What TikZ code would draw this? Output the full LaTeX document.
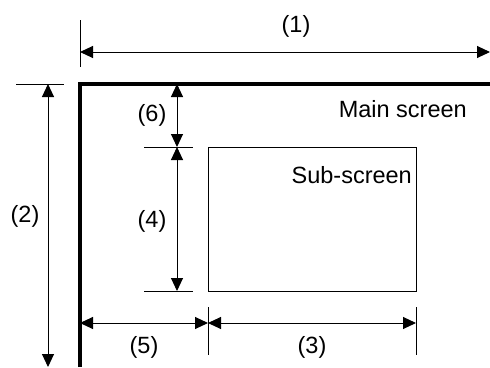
\documentclass[tikz,border=0pt]{standalone}
\usepackage{fontspec}
\setmainfont{Liberation Sans}
\usetikzlibrary{arrows.meta}
\begin{document}
\begin{tikzpicture}[x=1pt,y=-1pt,
  dim/.style={line width=1pt,{Triangle[length=13pt,width=12pt]}-{Triangle[length=13pt,width=12pt]}},
  ext/.style={line width=1pt},
  lbl/.style={font=\fontsize{23.5}{28}\selectfont,inner sep=0pt},
  mainline/.style={line width=4.5pt,line join=miter}]
\useasboundingbox (0,0) rectangle (490,367);
% main screen edge
\coordinate (mbl) at (80,367);
\coordinate (mtl) at (80,84);
\coordinate (mtr) at (490,84);
\draw[mainline] (mbl) -- (mtl) -- (mtr);
% sub-screen
\node[draw,line width=1pt,inner sep=0pt,minimum width=208pt,minimum height=144pt] (sub) at (312,219) {};
\node[lbl,anchor=east] (subtxt) at (412,175) {Sub-screen};
\node[lbl,anchor=east] (maintxt) at (467,109) {Main screen};
% dimension (1)
\coordinate (e1a) at (80,20);
\coordinate (e1b) at (80,67);
\draw[ext] (e1a) -- (e1b);
\coordinate (d1a) at (80,52);
\coordinate (d1b) at (490,52);
\draw[dim] (d1a) -- (d1b);
\node[lbl] (l1) at (296,26) {(1)};
% dimension (2)
\coordinate (e2a) at (16,84);
\coordinate (e2b) at (64,84);
\draw[ext] (e2a) -- (e2b);
\coordinate (d2a) at (48,84);
\coordinate (d2b) at (48,367);
\draw[dim] (d2a) -- (d2b);
\node[lbl] (l2) at (25,216) {(2)};
% extension lines for (6)/(4)
\coordinate (e6a) at (144,147);
\coordinate (e6b) at (193,147);
\draw[ext] (e6a) -- (e6b);
\coordinate (e4a) at (144,291);
\coordinate (e4b) at (193,291);
\draw[ext] (e4a) -- (e4b);
% dimension (6)
\coordinate (d6a) at (177,84);
\coordinate (d6b) at (177,147);
\draw[dim] (d6a) -- (d6b);
\node[lbl] (l6) at (152,115) {(6)};
% dimension (4)
\coordinate (d4a) at (177,147);
\coordinate (d4b) at (177,291);
\draw[dim] (d4a) -- (d4b);
\node[lbl] (l4) at (152,221) {(4)};
% extension lines for (5)/(3)
\coordinate (e5a) at (208,307);
\coordinate (e5b) at (208,355);
\draw[ext] (e5a) -- (e5b);
\coordinate (e3a) at (416,307);
\coordinate (e3b) at (416,355);
\draw[ext] (e3a) -- (e3b);
% dimension (5)
\coordinate (d5a) at (80,323);
\coordinate (d5b) at (208,323);
\draw[dim] (d5a) -- (d5b);
\node[lbl] (l5) at (144,347) {(5)};
% dimension (3)
\coordinate (d3a) at (208,323);
\coordinate (d3b) at (416,323);
\draw[dim] (d3a) -- (d3b);
\node[lbl] (l3) at (312,347) {(3)};
\end{tikzpicture}
\end{document}
